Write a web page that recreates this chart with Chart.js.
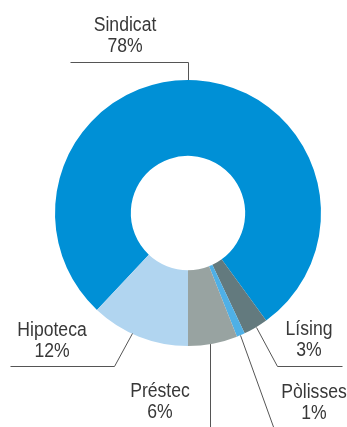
<!DOCTYPE html>
<html lang="ca">
<head>
  <meta charset="UTF-8">
  <title>Finançament</title>
  <script src="https://cdn.jsdelivr.net/npm/chart.js"></script>
  <style>
    html, body { margin: 0; padding: 0; background: #fff; }
    #wrap { position: relative; width: 347px; height: 427px; }
  </style>
</head>
<body>
  <div id="wrap"><canvas id="finChart"></canvas></div>

  <script>
    // dades del gràfic
    var categories = ['Sindicat', 'Lísing', 'Pòlisses', 'Préstec', 'Hipoteca'];
    var percents = [78, 3, 1, 6, 12];
    var colors = ['#0090d6', '#637a7e', '#4fb0e6', '#98a3a1', '#b1d5f0'];

    // on surt la línia de cada etiqueta (fracció del sector) i per on passa
    var labelLayout = [
      { at: 0.487, path: [[null, 62], [70, 62]], text: [125, 31] },
      { at: 0.5, path: [[277, 366], [342, 366]], text: [309, 335] },
      { at: 0.6, path: [[275, 432]], text: [314, 398] },
      { at: 0.55, path: [[null, 432]], text: [160, 397] },
      { at: 0.58, path: [[114, 366], [10, 366]], text: [52, 336] }
    ];

    var FONT = '20px "Liberation Sans", Arial, sans-serif';
    var NARROW = 0.88; // lletra estreta

    function narrowText(ctx, str, x, y) {
      ctx.save();
      ctx.translate(x, y);
      ctx.scale(NARROW, 1);
      ctx.fillText(str, 0, 0);
      ctx.restore();
    }

    var leaderLabels = {
      id: 'leaderLabels',
      afterDatasetsDraw: function(chart) {
        var ctx = chart.ctx;
        var arcs = chart.getDatasetMeta(0).data;
        ctx.save();
        ctx.strokeStyle = '#555';
        ctx.lineWidth = 1;
        ctx.font = FONT;
        ctx.fillStyle = '#383838';
        ctx.textAlign = 'center';
        ctx.textBaseline = 'alphabetic';
        arcs.forEach(function(arc, i) {
          var lay = labelLayout[i];
          var a = arc.startAngle + (arc.endAngle - arc.startAngle) * lay.at;
          var ax = arc.x + Math.cos(a) * arc.outerRadius;
          var ay = arc.y + Math.sin(a) * arc.outerRadius;
          ctx.beginPath();
          ctx.moveTo(Math.round(ax) + 0.5, ay);
          var px = ax;
          lay.path.forEach(function(p) {
            var x = p[0] === null ? px : p[0];
            ctx.lineTo(Math.round(x) + 0.5, Math.round(p[1]) + 0.5);
            px = x;
          });
          ctx.stroke();
          narrowText(ctx, categories[i], lay.text[0], lay.text[1]);
          narrowText(ctx, percents[i] + '%', lay.text[0], lay.text[1] + 21);
        });
        ctx.restore();
      }
    };

    var finChart = new Chart(document.getElementById('finChart'), {
      type: 'doughnut',
      data: {
        labels: categories,
        datasets: [{
          data: percents,
          backgroundColor: colors,
          borderWidth: 0,
          hoverOffset: 0
        }]
      },
      options: {
        responsive: true,
        maintainAspectRatio: false,
        animation: false,
        events: [],
        rotation: 223.2,
        cutout: '43%',
        layout: { padding: { left: 55, right: 26, top: 80, bottom: 81 } },
        plugins: {
          legend: { display: false },
          tooltip: { enabled: false }
        }
      },
      plugins: [leaderLabels]
    });
  </script>
</body>
</html>
